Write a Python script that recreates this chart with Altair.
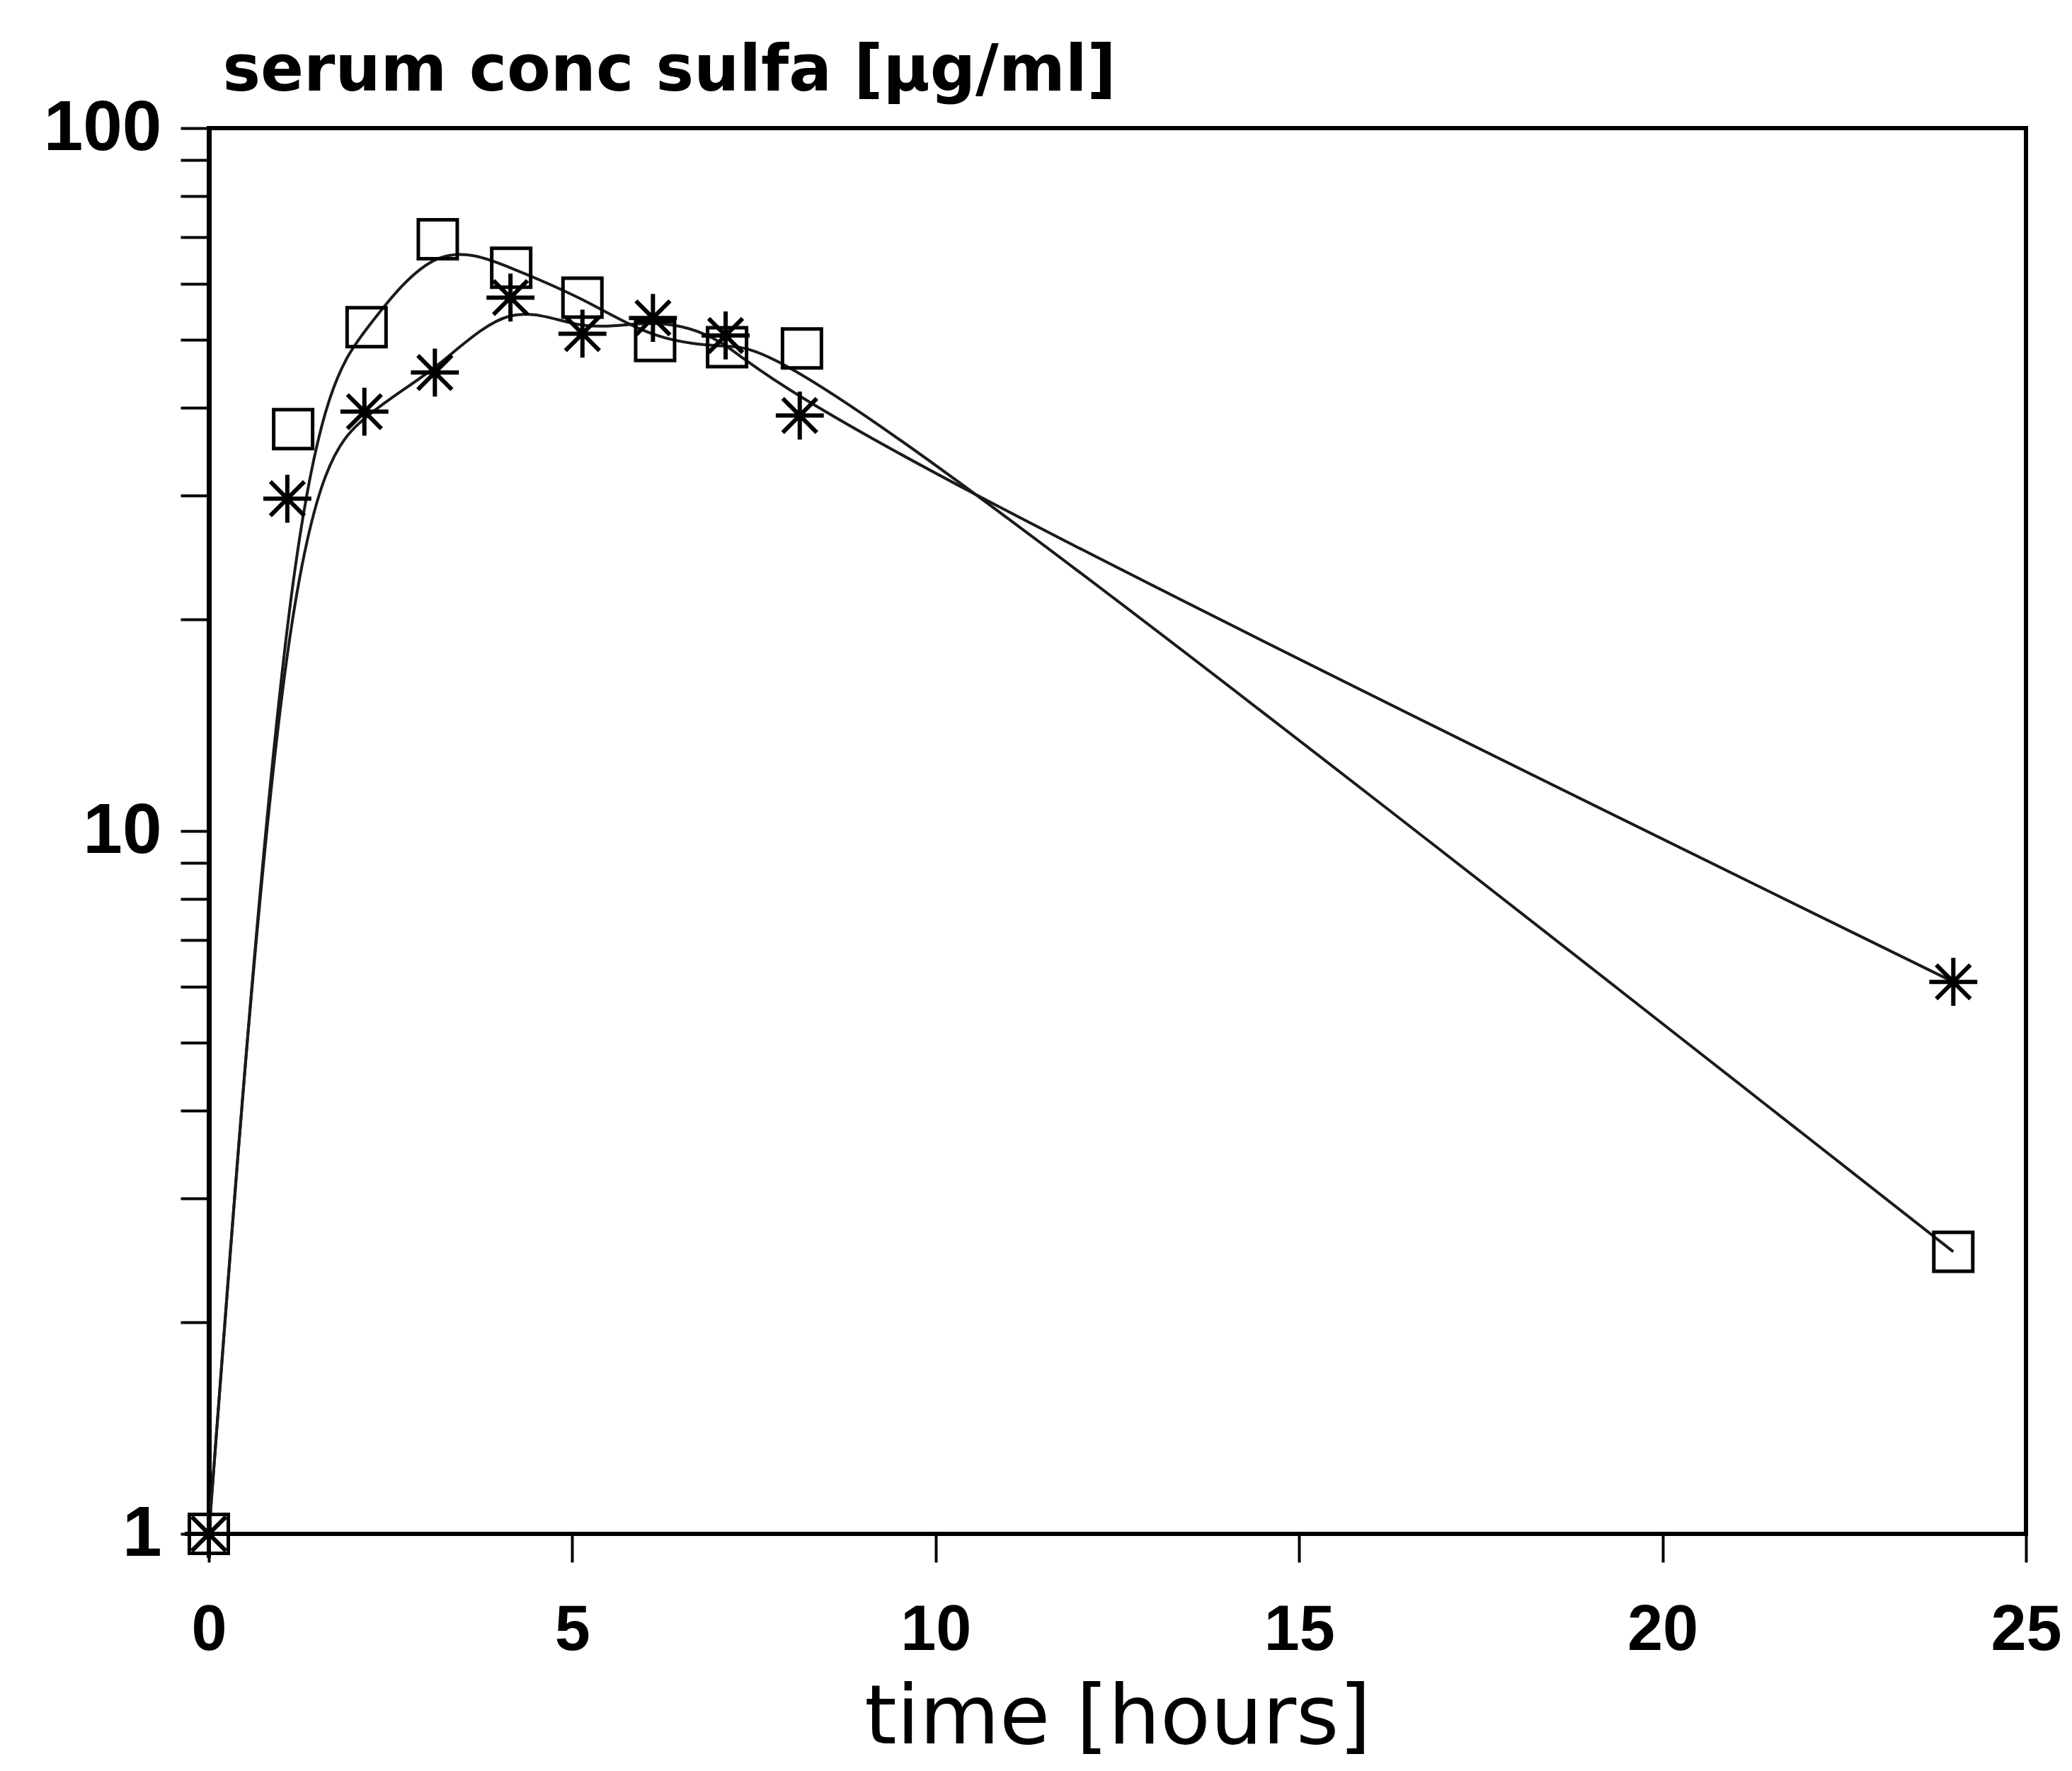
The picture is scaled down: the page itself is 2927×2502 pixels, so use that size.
import altair as alt
import pandas as pd

# ---- data ----
time_sq = [0, 1.16, 2.17, 3.15, 4.16, 5.14, 6.14, 7.13, 8.16, 24]
conc_sq = [1, 37.3, 52.1, 69.5, 63.3, 57.4, 49.8, 48.8, 48.6, 2.52]
time_st = [0, 1.08, 2.14, 3.11, 4.15, 5.14, 6.11, 7.11, 8.13, 24]
conc_st = [1, 29.7, 39.5, 44.9, 57.4, 51.0, 53.7, 50.7, 39.0, 6.1]

x_ticks = [0, 5, 10, 15, 20, 25]
y_ticks = [1, 2, 3, 4, 5, 6, 7, 8, 9, 10, 20, 30, 40, 50, 60, 70, 80, 90, 100]

df = pd.concat([
    pd.DataFrame({"time": time_sq, "conc": conc_sq, "series": "square"}),
    pd.DataFrame({"time": time_st, "conc": conc_st, "series": "star"}),
])

STAR = "M0,-1L0,1M-1,0L1,0M-0.71,-0.71L0.71,0.71M-0.71,0.71L0.71,-0.71"

x_enc = alt.X(
    "time:Q",
    scale=alt.Scale(domain=[0, 25], nice=False, zero=False),
    axis=alt.Axis(
        values=x_ticks, format="d", grid=False,
        tickSize=40, tickWidth=4, tickColor="black",
        domainWidth=5, domainColor="black",
        labelFont="Liberation Sans", labelFontWeight="bold", labelFontSize=90,
        labelColor="black", labelPadding=52, labelFlush=False, labelOverlap=False,
        title="time [hours]", titleFont="DejaVu Sans", titleFontWeight="normal",
        titleFontSize=116, titleColor="black", titleY=295, titleBaseline="alphabetic",
    ),
)

y_enc = alt.Y(
    "conc:Q",
    scale=alt.Scale(type="log", domain=[1, 100], nice=False),
    axis=alt.Axis(
        values=y_ticks, grid=False,
        labelExpr="datum.value == 1 || datum.value == 10 || datum.value == 100 ? format(datum.value, 'd') : ''",
        tickSize=40, tickWidth=4, tickColor="black",
        domainWidth=7, domainColor="black",
        labelFont="Liberation Sans", labelFontWeight="bold", labelFontSize=100,
        labelColor="black", labelPadding=27, labelOverlap=False, labelFlush=False,
        title="serum conc sulfa [µg/ml]", titleAngle=0, titleX=19, titleY=-54,
        titleAlign="left", titleBaseline="alphabetic",
        titleFont="DejaVu Sans", titleFontWeight="bold", titleFontSize=90,
        titleColor="black",
    ),
)

base = alt.Chart(df)

lines = base.mark_line(interpolate="basis", strokeWidth=4, color="#1a1a1a").encode(
    x=x_enc, y=y_enc, detail="series:N"
)

squares = base.transform_filter(alt.datum.series == "square").mark_point(
    shape="square", filled=False, color="black", strokeWidth=5, size=3025, opacity=1
).encode(x=x_enc, y=y_enc)

stars = base.transform_filter(alt.datum.series == "star").mark_point(
    shape=STAR, filled=False, color="black", strokeWidth=6, size=4600, opacity=1
).encode(x=x_enc, y=y_enc)

chart = (
    alt.layer(lines, squares, stars)
    .properties(
        width=2567, height=1986,
        autosize=alt.AutoSizeParams(type="none"),
        padding={"left": 287, "top": 173, "right": 57, "bottom": 326},
        background="white",
    )
    .configure_view(stroke="black", strokeWidth=6)
)

chart.save("out.html", embed_options={"renderer": "svg", "actions": False})
